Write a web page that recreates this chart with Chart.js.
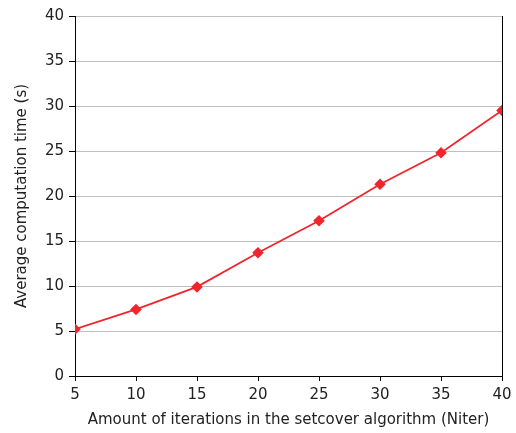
<!DOCTYPE html>
<html>
<head>
<meta charset="utf-8">
<script src="https://cdn.jsdelivr.net/npm/chart.js@4/dist/chart.umd.min.js"></script>
<style>
  html, body { margin: 0; padding: 0; background: #fff; }
  #wrap { width: 516px; height: 433px; position: relative; }
</style>
</head>
<body>
<div id="wrap"><canvas id="c"></canvas></div>
<script>
// Number of setcover iterations (Niter) and mean run time in seconds
const niter = [5, 10, 15, 20, 25, 30, 35, 40];
const avgTime = [5.2, 7.4, 9.9, 13.7, 17.25, 21.3, 24.8, 29.5];
const xTicks = [5, 10, 15, 20, 25, 30, 35, 40];
const yTicks = [0, 5, 10, 15, 20, 25, 30, 35, 40];

const FONT = { family: 'DejaVu Sans', size: 15 };
const TEXT = '#222';

// Closes the frame on the right side of the plot area
const rightSpine = {
  id: 'rightSpine',
  afterDraw(chart) {
    const { ctx, chartArea } = chart;
    ctx.save();
    ctx.strokeStyle = '#000';
    ctx.lineWidth = 1;
    ctx.beginPath();
    ctx.moveTo(Math.round(chartArea.right) + 0.5, chartArea.top);
    ctx.lineTo(Math.round(chartArea.right) + 0.5, chartArea.bottom);
    ctx.stroke();
    ctx.restore();
  }
};

new Chart(document.getElementById('c'), {
  type: 'line',
  data: {
    datasets: [{
      data: niter.map((x, i) => ({ x, y: avgTime[i] })),
      borderColor: '#f0262c',
      backgroundColor: '#f0262c',
      borderWidth: 1.8,
      pointStyle: 'rectRot',
      pointRadius: 4.5,
      pointHoverRadius: 4.5,
      tension: 0
    }]
  },
  options: {
    responsive: true,
    maintainAspectRatio: false,
    animation: false,
    layout: { padding: { top: 16, right: 14, left: 13, bottom: 0 } },
    plugins: { legend: { display: false }, tooltip: { enabled: false } },
    scales: {
      x: {
        type: 'linear',
        min: 5,
        max: 40,
        afterBuildTicks(axis) { axis.ticks = xTicks.map(v => ({ value: v })); },
        afterFit(axis) {
          axis.height = 57;
          axis.paddingLeft = 0;
          axis.paddingRight = 0;
        },
        ticks: { color: TEXT, font: FONT, padding: 5, maxRotation: 0 },
        grid: { drawOnChartArea: false, drawTicks: true, tickLength: 5, tickColor: '#000' },
        border: { color: '#000', width: 1 },
        title: {
          display: true,
          text: 'Amount of iterations in the setcover algorithm (Niter)',
          color: TEXT,
          font: FONT,
          padding: { top: 2, bottom: 4 }
        }
      },
      y: {
        min: 0,
        max: 40,
        afterBuildTicks(axis) { axis.ticks = yTicks.map(v => ({ value: v })); },
        afterFit(axis) { axis.width = 62; },
        ticks: { color: TEXT, font: FONT, padding: 5 },
        grid: { color: '#c0c0c0', lineWidth: 1, drawTicks: true, tickLength: 6, tickColor: '#000' },
        border: { color: '#000', width: 1 },
        title: {
          display: true,
          text: 'Average computation time (s)',
          color: TEXT,
          font: FONT,
          padding: { top: 0, bottom: 6 }
        }
      }
    }
  },
  plugins: [rightSpine]
});
</script>
</body>
</html>
